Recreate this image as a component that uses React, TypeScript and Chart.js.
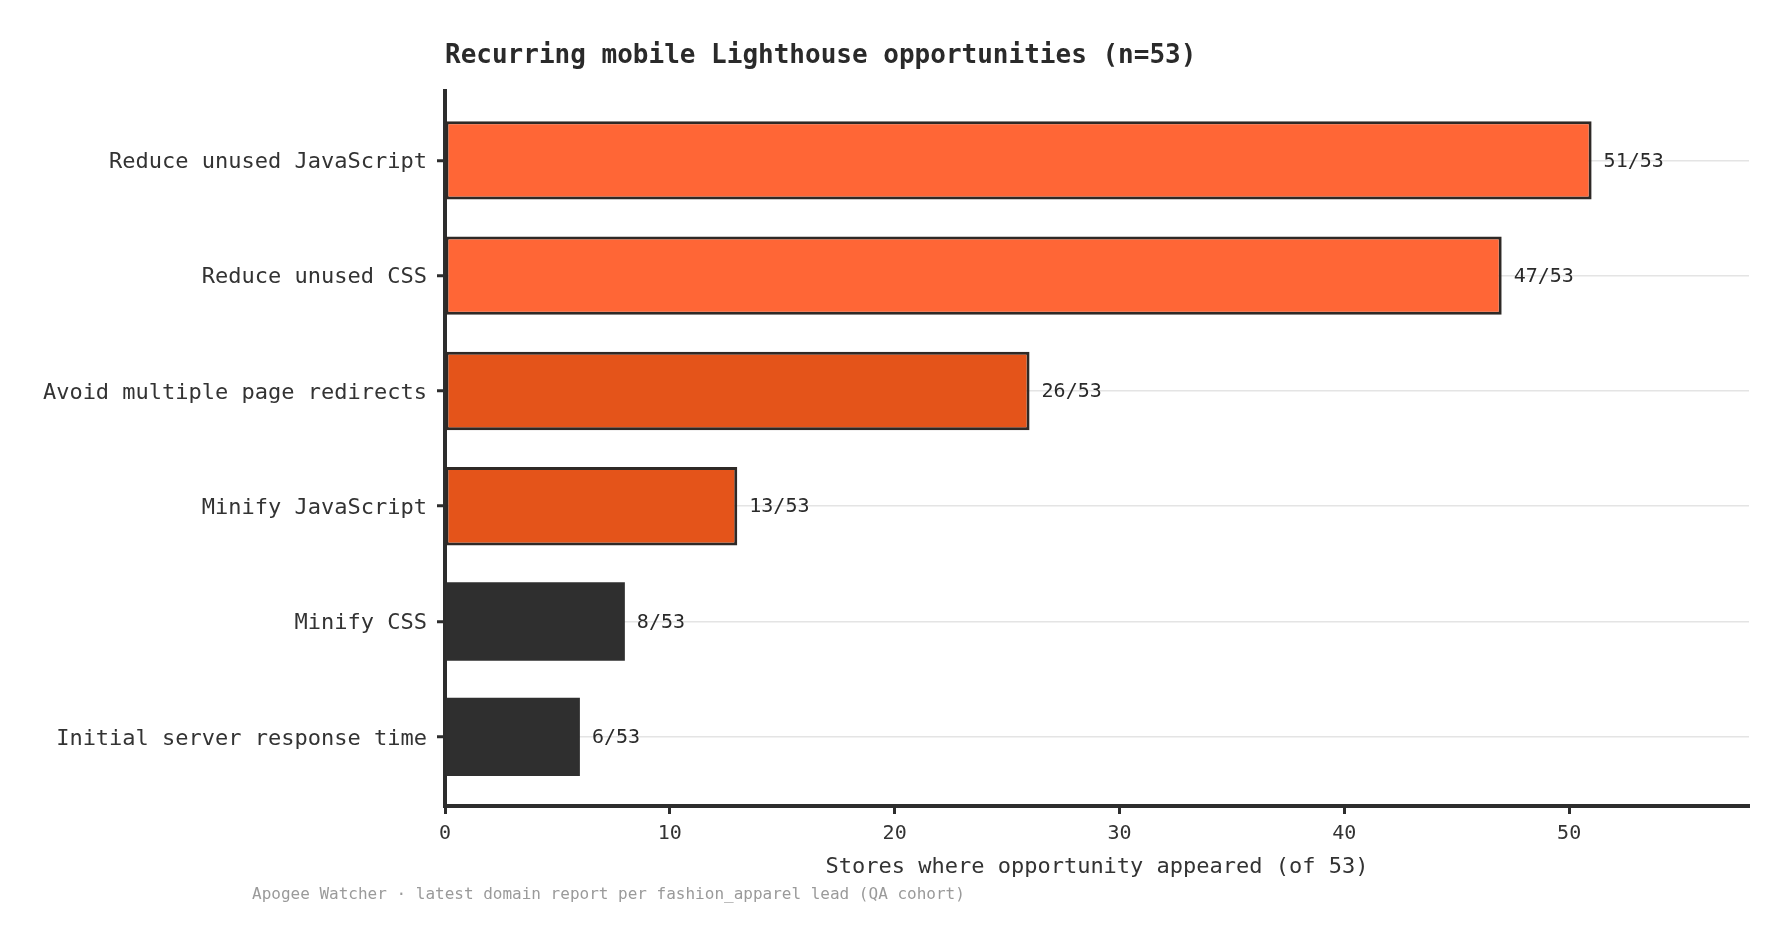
import React, { useEffect, useRef } from "react";
import { Chart, registerables } from "chart.js";

Chart.register(...registerables);

const categories = [
  "Reduce unused JavaScript",
  "Reduce unused CSS",
  "Avoid multiple page redirects",
  "Minify JavaScript",
  "Minify CSS",
  "Initial server response time",
];
const storeCounts = [51, 47, 26, 13, 8, 6];
const totalStores = 53;
const barColors = ["#FF6636", "#FF6636", "#E4541A", "#E4541A", "#2F2F2F", "#2F2F2F"];
const barBorderWidths = [3, 3, 3, 3, 0, 0];
const xTickStep = 10;
const xMax = 58;

const MONO = "'DejaVu Sans Mono', 'Liberation Mono', monospace";
const INK = "#2d2d2d";

const valueLabelPlugin = {
  id: "valueLabels",
  afterDatasetsDraw(chart: any) {
    const { ctx } = chart;
    const meta = chart.getDatasetMeta(0);
    ctx.save();
    ctx.font = `20px ${MONO}`;
    ctx.fillStyle = "#2a2a2a";
    ctx.textAlign = "left";
    ctx.textBaseline = "middle";
    meta.data.forEach((bar: any, i: number) => {
      ctx.fillText(`${storeCounts[i]}/${totalStores}`, bar.x + 12, bar.y + 1);
    });
    ctx.restore();
  },
};

const footerPlugin = {
  id: "footerNote",
  afterDraw(chart: any) {
    const { ctx } = chart;
    ctx.save();
    ctx.font = `16px ${MONO}`;
    ctx.fillStyle = "#9a9a9a";
    ctx.textAlign = "left";
    ctx.textBaseline = "middle";
    ctx.fillText(
      "Apogee Watcher · latest domain report per fashion_apparel lead (QA cohort)",
      252,
      895
    );
    ctx.restore();
  },
};

export default function App() {
  const canvasRef = useRef<HTMLCanvasElement | null>(null);

  useEffect(() => {
    if (!canvasRef.current) return;
    const chart = new Chart(canvasRef.current, {
      type: "bar",
      data: {
        datasets: [
          {
            data: storeCounts.map((v, i) => ({ x: v, y: i })),
            backgroundColor: barColors,
            borderColor: "#2e2926",
            borderWidth: barBorderWidths,
            borderSkipped: false,
            barPercentage: 0.68,
            categoryPercentage: 1,
          },
        ],
      },
      options: {
        indexAxis: "y",
        animation: false,
        responsive: true,
        maintainAspectRatio: false,
        layout: { padding: { top: 0, right: 37, bottom: 56, left: 0 } },
        plugins: {
          legend: { display: false },
          tooltip: { enabled: false },
          title: {
            display: true,
            text: "Recurring mobile Lighthouse opportunities (n=53)",
            align: "start",
            fullSize: false,
            color: "#2a2a2a",
            font: { family: MONO, size: 26, weight: "bold" },
            padding: { top: 41, bottom: 19 },
          },
        },
        scales: {
          x: {
            type: "linear",
            min: 0,
            max: xMax,
            ticks: {
              stepSize: xTickStep,
              includeBounds: false,
              color: "#333",
              font: { family: MONO, size: 20 },
              padding: 8,
            },
            grid: {
              drawOnChartArea: false,
              drawTicks: true,
              tickLength: 8,
              tickColor: INK,
              tickWidth: 3,
            },
            border: { display: true, color: INK, width: 4 },
            title: {
              display: true,
              text: "Stores where opportunity appeared (of 53)",
              color: "#333",
              font: { family: MONO, size: 22 },
              padding: { top: 2, bottom: 6 },
            },
            afterFit(scale: any) {
              scale.height = 80;
            },
          },
          y: {
            type: "linear",
            reverse: true,
            offset: false,
            min: -0.6,
            max: categories.length - 0.4,
            afterBuildTicks(scale: any) {
              scale.ticks = categories.map((_, i) => ({ value: i }));
            },
            ticks: {
              autoSkip: false,
              color: "#333",
              font: { family: MONO, size: 22 },
              padding: 10,
              labelOffset: 2,
              callback: (v: any) => categories[v as number] ?? "",
            },
            grid: {
              offset: false,
              drawOnChartArea: true,
              color: "#e4e4e4",
              lineWidth: 1.5,
              drawTicks: true,
              tickLength: 8,
              tickColor: INK,
              tickWidth: 3,
            },
            border: { display: true, color: INK, width: 4 },
            afterFit(scale: any) {
              scale.width = 445;
            },
          },
        },
      },
      plugins: [valueLabelPlugin, footerPlugin],
    } as any);
    return () => chart.destroy();
  }, []);

  return (
    <div
      style={{
        position: "fixed",
        left: 0,
        top: 0,
        width: 1786,
        height: 942,
        background: "#ffffff",
      }}
    >
      <canvas ref={canvasRef} />
    </div>
  );
}
